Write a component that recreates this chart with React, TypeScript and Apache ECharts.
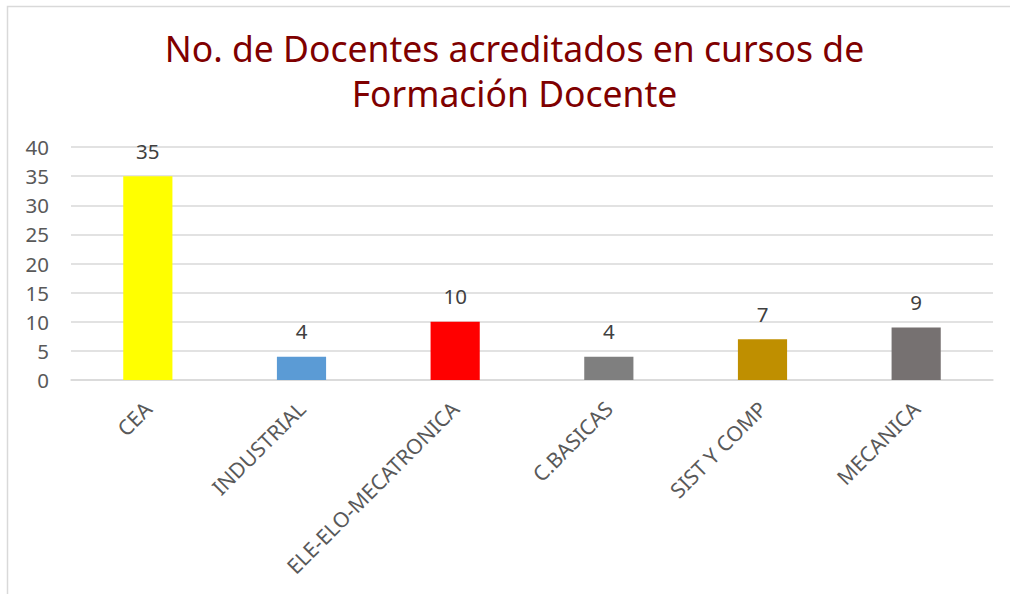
import React, { useEffect, useRef } from "react";
import * as echarts from "echarts";

const categories = ["CEA", "INDUSTRIAL", "ELE-ELO-MECATRONICA", "C.BASICAS", "SIST Y COMP", "MECANICA"];
const values = [35, 4, 10, 4, 7, 9];
const barColors = ["#FFFF00", "#5B9BD5", "#FF0000", "#7F7F7F", "#BF8F00", "#767171"];
const titleLines = ["No. de Docentes acreditados en cursos de", "Formación Docente"];

export default function App() {
  const ref = useRef<HTMLDivElement>(null);
  useEffect(() => {
    if (!ref.current) return;
    const chart = echarts.init(ref.current, undefined, { renderer: "svg" });
    const font = "'Noto Sans', 'Open Sans', sans-serif";
    const titleTops = [30, 75];
    chart.setOption({
      animation: false,
      backgroundColor: "#ffffff",
      title: titleLines.map((t, i) => ({
        text: t,
        left: 514.5,
        top: titleTops[i],
        padding: 0,
        textAlign: "center",
        textStyle: {
          color: "#7F0000",
          fontSize: 35.5,
          fontWeight: "normal",
          fontFamily: font,
          lineHeight: 36,
        },
      })),
      graphic: [
        {
          type: "rect",
          shape: { x: 7.5, y: 6.5, width: 1020, height: 620 },
          style: { fill: "none", stroke: "#D9D9D9", lineWidth: 1.5 },
          silent: true,
        },
      ],
      grid: { left: 71, right: 17, top: 147, bottom: 214, containLabel: false },
      xAxis: {
        type: "category",
        data: categories,
        axisLine: { lineStyle: { color: "#D9D9D9", width: 1.5 } },
        axisTick: { show: false },
        axisLabel: {
          rotate: 45,
          color: "#595959",
          fontSize: 21,
          fontFamily: font,
          margin: 25,
          interval: 0,
        },
      },
      yAxis: {
        type: "value",
        min: 0,
        max: 40,
        interval: 5,
        axisLine: { show: false },
        axisTick: { show: false },
        splitLine: { lineStyle: { color: "#D9D9D9", width: 1.5 } },
        axisLabel: { color: "#595959", fontSize: 20.5, fontFamily: font, margin: 22 },
      },
      series: [
        {
          type: "bar",
          data: values.map((v, i) => ({ value: v, itemStyle: { color: barColors[i] } })),
          barWidth: "32%",
          label: {
            show: true,
            position: "top",
            distance: 15,
            color: "#404040",
            fontSize: 20.5,
            fontFamily: font,
          },
        },
      ],
    });
    return () => chart.dispose();
  }, []);
  return (
    <div
      ref={ref}
      style={{ position: "fixed", left: 0, top: 0, width: 1010, height: 594 }}
    />
  );
}
